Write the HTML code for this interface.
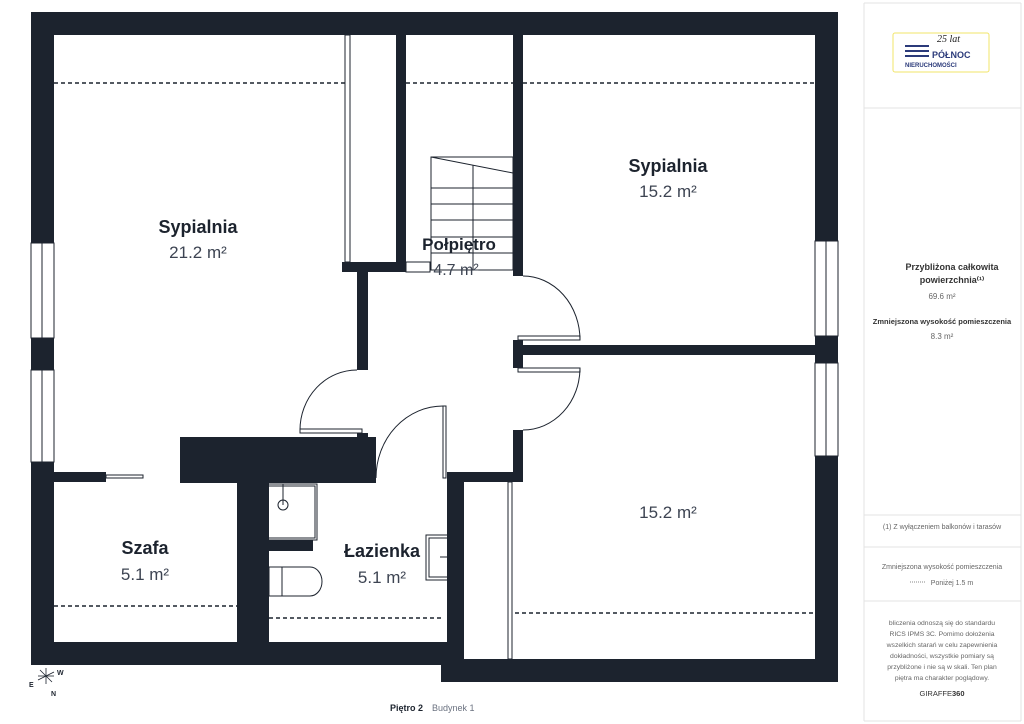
<!DOCTYPE html>
<html><head><meta charset="utf-8"><style>
html,body{margin:0;padding:0;background:#fff;width:1024px;height:724px;overflow:hidden;font-family:"Liberation Sans",sans-serif}
</style></head><body>
<svg width="1024" height="724" viewBox="0 0 1024 724" xmlns="http://www.w3.org/2000/svg" style="position:absolute;left:0;top:0">
<g fill="#1c232e">
<rect x="31" y="12" width="807" height="23"/>
<rect x="31" y="12" width="23" height="653"/>
<rect x="815" y="12" width="23" height="670"/>
<rect x="31" y="642" width="433" height="23"/>
<rect x="441" y="659" width="397" height="23"/>
<rect x="447" y="473" width="17" height="209"/>
<rect x="447" y="472" width="76" height="10"/>
<rect x="513" y="430" width="10" height="52"/>
<rect x="513" y="35" width="10" height="241"/>
<rect x="513" y="340" width="10" height="28"/>
<rect x="523" y="345" width="292" height="10"/>
<rect x="396" y="35" width="10" height="237"/>
<rect x="342" y="262" width="64" height="10"/>
<rect x="357" y="272" width="11" height="98"/>
<rect x="180" y="437" width="196" height="46"/>
<rect x="357" y="433" width="11" height="6"/>
<rect x="31" y="472" width="75" height="10"/>
<rect x="237" y="483" width="32" height="160"/>
<rect x="237" y="540" width="76" height="11"/>
</g>
<g fill="#fff" stroke="#1c232e" stroke-width="1">
<rect x="31" y="243" width="23" height="95"/><line x1="42" y1="243" x2="42" y2="338"/>
<rect x="31" y="370" width="23" height="92"/><line x1="42" y1="370" x2="42" y2="462"/>
<rect x="815" y="241" width="23" height="95"/><line x1="826" y1="241" x2="826" y2="336"/>
<rect x="815" y="363" width="23" height="93"/><line x1="826" y1="363" x2="826" y2="456"/>
</g>
<g fill="none" stroke="#1c232e" stroke-width="1">
<rect x="345" y="35" width="5" height="227"/>
<rect x="106" y="475" width="37" height="3"/>
<rect x="249" y="484" width="68" height="56"/><rect x="251" y="486" width="64" height="52"/>
<line x1="283" y1="484" x2="283" y2="505"/><circle cx="283" cy="505" r="5"/>
<path d="M269 567 H310 A12 14.5 0 0 1 310 596 H269 Z"/><line x1="282" y1="567" x2="282" y2="596"/>
<rect x="426" y="535" width="27" height="45"/><rect x="429" y="538" width="21" height="39"/><line x1="440" y1="557" x2="453" y2="557"/>
<rect x="508" y="482" width="4" height="177"/>
<rect x="406" y="262" width="24" height="10"/>
<path d="M431 157 L513 173"/><rect x="431" y="157" width="82" height="113"/>
<line x1="473" y1="165" x2="473" y2="270"/>
<g><line x1="431" y1="188" x2="513" y2="188"/><line x1="431" y1="204" x2="513" y2="204"/><line x1="431" y1="220" x2="513" y2="220"/><line x1="431" y1="237" x2="513" y2="237"/><line x1="431" y1="253" x2="513" y2="253"/></g>
<path d="M523 276 A57 64 0 0 1 580 340"/><rect x="518" y="336" width="62" height="4"/>
<path d="M523 430 A57 62 0 0 0 580 368"/><rect x="518" y="368" width="62" height="4"/>
<path d="M357 370 A57 60 0 0 0 300 430"/><rect x="300" y="429" width="62" height="4"/>
<path d="M443 406 A67 72 0 0 0 376 478"/><rect x="443" y="406" width="3" height="72"/>
</g>
<g stroke="#1c232e" stroke-width="1.5" stroke-dasharray="4,3">
<line x1="54" y1="83" x2="345" y2="83"/><line x1="406" y1="83" x2="513" y2="83"/><line x1="523" y1="83" x2="815" y2="83"/>
<line x1="54" y1="606" x2="237" y2="606"/><line x1="269" y1="618" x2="441" y2="618"/><line x1="515" y1="613" x2="815" y2="613"/>
</g>
<g font-family="Liberation Sans, sans-serif" text-anchor="middle">
<text x="198" y="233" font-size="18" font-weight="bold" fill="#1c232e">Sypialnia</text>
<text x="198" y="258" font-size="17" fill="#3d4452">21.2 m²</text>
<text x="668" y="172" font-size="18" font-weight="bold" fill="#1c232e">Sypialnia</text>
<text x="668" y="197" font-size="17" fill="#3d4452">15.2 m²</text>
<text x="459" y="250" font-size="17" font-weight="bold" fill="#1c232e">Połpiętro</text>
<text x="456" y="275" font-size="16" fill="#3d4452">4.7 m²</text>
<text x="145" y="554" font-size="18" font-weight="bold" fill="#1c232e">Szafa</text>
<text x="145" y="580" font-size="17" fill="#3d4452">5.1 m²</text>
<text x="382" y="557" font-size="18" font-weight="bold" fill="#1c232e">Łazienka</text>
<text x="382" y="583" font-size="17" fill="#3d4452">5.1 m²</text>
<text x="668" y="518" font-size="17" fill="#3d4452">15.2 m²</text>
</g>
<g stroke="#1c232e" stroke-width="0.8"><line x1="38" y1="680" x2="54" y2="672"/><line x1="40" y1="670" x2="52" y2="682"/><line x1="46" y1="668" x2="46" y2="684"/><line x1="38" y1="676" x2="54" y2="676"/></g>
<g font-size="7" font-weight="bold" fill="#1c232e" font-family="Liberation Sans, sans-serif"><text x="57" y="675">W</text><text x="29" y="687">E</text><text x="51" y="696">N</text></g>
<text x="390" y="711" font-size="9" font-weight="bold" fill="#1c232e">Piętro 2</text>
<text x="432" y="711" font-size="9" fill="#6b7280">Budynek 1</text>
<g stroke="#e3e3e3" fill="none"><line x1="864" y1="3" x2="864" y2="721"/><line x1="1021" y1="3" x2="1021" y2="721"/><line x1="864" y1="3" x2="1021" y2="3"/><line x1="864" y1="721" x2="1021" y2="721"/>
<line x1="864" y1="108" x2="1021" y2="108"/><line x1="864" y1="515" x2="1021" y2="515"/><line x1="864" y1="547" x2="1021" y2="547"/><line x1="864" y1="601" x2="1021" y2="601"/></g>
<rect x="893" y="33" width="96" height="39" rx="2" fill="#fff" stroke="#f2e56a"/>
<g fill="#2b3a7a"><rect x="905" y="45" width="24" height="2"/><rect x="905" y="50" width="24" height="2"/><rect x="905" y="55" width="24" height="2"/></g>
<text x="937" y="42" font-size="10" font-style="italic" fill="#222" font-family="Liberation Serif, serif">25 lat</text>
<text x="932" y="58" font-size="9" font-weight="bold" fill="#2b3a7a">PÓŁNOC</text>
<text x="905" y="67" font-size="6" font-weight="bold" fill="#2b3a7a">NIERUCHOMOŚCI</text>
<g font-family="Liberation Sans, sans-serif" text-anchor="middle" fill="#333">
<text x="952" y="270" font-size="9" font-weight="bold">Przybliżona całkowita</text>
<text x="952" y="283" font-size="9" font-weight="bold">powierzchnia⁽¹⁾</text>
<text x="942" y="299" font-size="8" fill="#666">69.6 m²</text>
<text x="942" y="324" font-size="7.5" font-weight="bold">Zmniejszona wysokość pomieszczenia</text>
<text x="942" y="339" font-size="8" fill="#666">8.3 m²</text>
<text x="942" y="529" font-size="7" fill="#666">(1) Z wyłączeniem balkonów i tarasów</text>
<text x="942" y="569" font-size="7" fill="#666">Zmniejszona wysokość pomieszczenia</text>
<text x="952" y="585" font-size="7" fill="#666">Poniżej 1.5 m</text>
<text x="942" y="625" font-size="6.8" fill="#666">bliczenia odnoszą się do standardu</text>
<text x="942" y="636" font-size="6.8" fill="#666">RICS IPMS 3C. Pomimo dołożenia</text>
<text x="942" y="647" font-size="6.8" fill="#666">wszelkich starań w celu zapewnienia</text>
<text x="942" y="658" font-size="6.8" fill="#666">dokładności, wszystkie pomiary są</text>
<text x="942" y="669" font-size="6.8" fill="#666">przybliżone i nie są w skali. Ten plan</text>
<text x="942" y="680" font-size="6.8" fill="#666">piętra ma charakter poglądowy.</text>
<text x="942" y="696" font-size="7.5">GIRAFFE<tspan font-weight="bold">360</tspan></text>
</g>
<line x1="910" y1="582" x2="926" y2="582" stroke="#888" stroke-dasharray="1,1"/>
</svg>
</body></html>
